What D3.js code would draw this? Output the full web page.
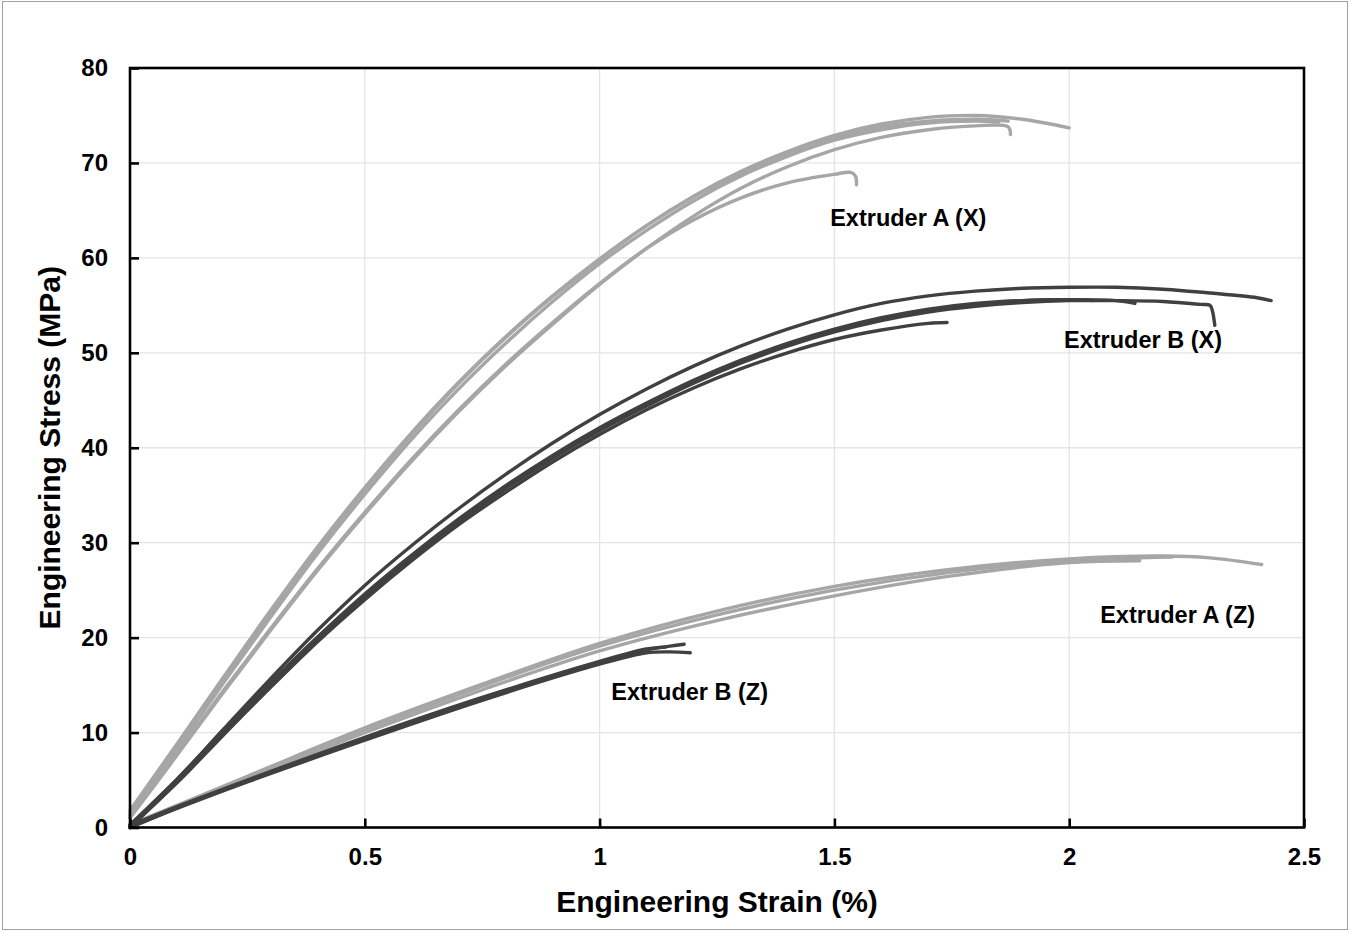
<!DOCTYPE html>
<html>
<head>
<meta charset="utf-8">
<script src="https://cdn.jsdelivr.net/npm/d3@7"></script>
<style>
  body { margin: 0; background: #fff; }
  svg text { font-family: "Liberation Sans", Arial, sans-serif; font-weight: bold; fill: #000; }
</style>
</head>
<body>
<div id="chart"></div>
<script>
// tensile curves, [strain %, stress MPa]
const extruderAX = [
  [[0,1.5],[0.1,8.5],[0.2,15.6],[0.3,22.6],[0.4,29.3],[0.5,35.6],[0.6,41.4],[0.7,46.8],[0.8,51.6],[0.9,55.9],[1.0,59.8],[1.1,63.4],[1.2,66.5],[1.3,69.1],[1.4,71.2],[1.5,72.9],[1.6,74.1],[1.7,74.8],[1.8,75],[1.9,74.6],[2.0,73.7]],
  [[0,1.8],[0.1,8.8],[0.2,15.9],[0.3,22.9],[0.4,29.6],[0.5,35.8],[0.6,41.6],[0.7,46.9],[0.8,51.7],[0.9,56],[1.0,59.9],[1.1,63.4],[1.2,66.4],[1.3,68.9],[1.4,71],[1.5,72.6],[1.6,73.8],[1.7,74.4],[1.8,74.6],[1.87,74.4]],
  [[0,1.2],[0.1,8.2],[0.2,15.3],[0.3,22.2],[0.4,28.9],[0.5,35.1],[0.6,40.9],[0.7,46.2],[0.8,51],[0.9,55.4],[1.0,59.4],[1.1,62.9],[1.2,66],[1.3,68.6],[1.4,70.7],[1.5,72.4],[1.6,73.5],[1.7,74.2],[1.8,74.4],[1.85,74.3]],
  [[0,1],[0.1,7.6],[0.2,14.3],[0.3,20.8],[0.4,27.1],[0.5,33],[0.6,38.6],[0.7,43.8],[0.8,48.6],[0.9,53],[1.0,57.2],[1.1,61],[1.2,64.4],[1.3,67.3],[1.4,69.6],[1.5,71.4],[1.6,72.7],[1.7,73.5],[1.8,73.9],[1.87,73.8],[1.875,73.0]],
  [[0,1.2],[0.1,7.8],[0.2,14.5],[0.3,21],[0.4,27.3],[0.5,33.2],[0.6,38.8],[0.7,44],[0.8,48.8],[0.9,53.2],[1.0,57.3],[1.1,61],[1.2,64],[1.3,66.3],[1.4,67.9],[1.5,68.8],[1.535,69],[1.545,68.6],[1.547,67.7]]
];
const extruderBX = [
  [[0,0],[0.1,5],[0.2,10.4],[0.3,15.7],[0.4,20.8],[0.5,25.5],[0.6,29.7],[0.7,33.6],[0.8,37.2],[0.9,40.5],[1.0,43.5],[1.1,46.2],[1.2,48.6],[1.3,50.7],[1.4,52.5],[1.5,54],[1.6,55.2],[1.7,56],[1.8,56.5],[1.9,56.8],[2.0,56.9],[2.1,56.9],[2.2,56.7],[2.3,56.3],[2.4,55.8],[2.43,55.5]],
  [[0,0],[0.1,4.8],[0.2,10],[0.3,15],[0.4,19.8],[0.5,24.3],[0.6,28.4],[0.7,32.2],[0.8,35.7],[0.9,38.9],[1.0,41.8],[1.1,44.4],[1.2,46.8],[1.3,48.9],[1.4,50.7],[1.5,52.2],[1.6,53.4],[1.7,54.3],[1.8,54.9],[1.9,55.3],[2.0,55.5],[2.1,55.5],[2.2,55.4],[2.28,55.1],[2.3,55],[2.305,54.4],[2.31,52.9]],
  [[0,0.2],[0.1,5],[0.2,10.2],[0.3,15.2],[0.4,20],[0.5,24.5],[0.6,28.6],[0.7,32.4],[0.8,35.9],[0.9,39.1],[1.0,42],[1.1,44.6],[1.2,47],[1.3,49.1],[1.4,50.9],[1.5,52.4],[1.6,53.6],[1.7,54.5],[1.8,55.1],[1.9,55.5],[2.0,55.6],[2.1,55.5],[2.14,55.2]],
  [[0,0.1],[0.1,4.7],[0.2,9.8],[0.3,14.8],[0.4,19.6],[0.5,24],[0.6,28.1],[0.7,31.9],[0.8,35.3],[0.9,38.5],[1.0,41.4],[1.1,44],[1.2,46.3],[1.3,48.3],[1.4,50],[1.5,51.4],[1.6,52.4],[1.7,53.1],[1.74,53.2]],
  [[0,0.3],[0.1,5.1],[0.2,10.3],[0.3,15.3],[0.4,20.1],[0.5,24.6],[0.6,28.7],[0.7,32.5],[0.8,36],[0.9,39.2],[1.0,42.1],[1.1,44.7],[1.2,47.1],[1.3,49.2],[1.4,51],[1.5,52.5],[1.6,53.7],[1.7,54.6],[1.8,55.2],[1.9,55.5],[2.0,55.6],[2.05,55.5]]
];
const extruderAZ = [
  [[0,0.3],[0.25,5.4],[0.5,10.5],[0.75,15.1],[1.0,19.4],[1.25,22.8],[1.5,25.4],[1.75,27.2],[2.0,28.3],[2.2,28.6],[2.3,28.4],[2.41,27.7]],
  [[0,0.2],[0.25,5.3],[0.5,10.3],[0.75,14.9],[1.0,19.1],[1.25,22.4],[1.5,25],[1.75,26.9],[2.0,28.1],[2.22,28.5]],
  [[0,0],[0.25,5.1],[0.5,10],[0.75,14.5],[1.0,18.6],[1.25,21.8],[1.5,24.4],[1.75,26.5],[2.0,27.9],[2.15,28.1]]
];
const extruderBZ = [
  [[0,0],[0.1,2.1],[0.25,4.9],[0.5,9.4],[0.75,13.6],[1.0,17.4],[1.1,18.7],[1.15,19.1],[1.18,19.3]],
  [[0,0],[0.1,2],[0.25,4.8],[0.5,9.2],[0.75,13.4],[1.0,17.2],[1.1,18.4],[1.15,18.5],[1.193,18.4]],
  [[0,0.2],[0.1,2.2],[0.25,5],[0.5,9.5],[0.75,13.7],[1.0,17.5],[1.1,18.8],[1.14,19]]
];
const groupNames = ["Extruder A (X)", "Extruder B (X)", "Extruder A (Z)", "Extruder B (Z)"];
const xTicks = [0, 0.5, 1, 1.5, 2, 2.5];
const yTicks = [0, 10, 20, 30, 40, 50, 60, 70, 80];

let w = 1351, h = 932;
let padLeft = 130, padRight = 1304, padTop = 68, padBottom = 827.5;

var svg = d3.select("#chart").append("svg")
  .attr("width", w).attr("height", h);

// faint outer border of the picture
svg.append("rect")
  .attr("x", 2.5).attr("y", 1.5).attr("width", 1345).attr("height", 928)
  .attr("fill", "none").attr("stroke", "#a0a0a0").attr("stroke-width", 1);

var x = d3.scaleLinear().domain([0, 2.5]).range([padLeft, padRight]);
var y = d3.scaleLinear().domain([0, 80]).range([padBottom, padTop]);

// gridlines
svg.append("g").selectAll("line").data(xTicks.slice(1, -1)).enter().append("line")
  .attr("x1", d => x(d)).attr("x2", d => x(d)).attr("y1", padTop).attr("y2", padBottom)
  .attr("stroke", "#e4e4e4").attr("stroke-width", 1.3);
svg.append("g").selectAll("line").data(yTicks.slice(1, -1)).enter().append("line")
  .attr("y1", d => y(d)).attr("y2", d => y(d)).attr("x1", padLeft).attr("x2", padRight)
  .attr("stroke", "#e4e4e4").attr("stroke-width", 1.3);

var line = d3.line()
  .x(d => x(d[0])).y(d => y(d[1]))
  .curve(d3.curveCatmullRom.alpha(0.5));

function drawGroup(curves, color) {
  svg.append("g").selectAll("path").data(curves).enter().append("path")
    .attr("d", line)
    .attr("fill", "none")
    .attr("stroke", color)
    .attr("stroke-width", 3.4)
    .attr("stroke-linecap", "round")
    .attr("stroke-linejoin", "round");
}
drawGroup(extruderAZ, "#a6a6a6");
drawGroup(extruderBZ, "#404040");
drawGroup(extruderAX, "#a6a6a6");
drawGroup(extruderBX, "#404040");

// axes, ticks pointing in
var xAxis = d3.axisBottom(x).tickValues(xTicks).tickSize(-9).tickPadding(20)
  .tickFormat(d => d);
var yAxis = d3.axisLeft(y).tickValues(yTicks).tickSize(-9).tickPadding(22)
  .tickFormat(d => d);

var gx = svg.append("g").attr("transform", "translate(0," + padBottom + ")").call(xAxis);
var gy = svg.append("g").attr("transform", "translate(" + padLeft + ",0)").call(yAxis);
[gx, gy].forEach(function(g) {
  g.select(".domain").remove();
  g.selectAll(".tick line").attr("stroke", "#000").attr("stroke-width", 2.6);
  g.selectAll(".tick text").style("font-size", "24px").style("font-family", "Liberation Sans, Arial, sans-serif").style("font-weight", "bold");
});

// frame
svg.append("rect")
  .attr("x", padLeft).attr("y", padTop).attr("width", padRight - padLeft).attr("height", padBottom - padTop)
  .attr("fill", "none").attr("stroke", "#000").attr("stroke-width", 2.6);

// axis titles
svg.append("text")
  .attr("x", (padLeft + padRight) / 2).attr("y", 912)
  .style("text-anchor", "middle").style("font-size", "30px")
  .text("Engineering Strain (%)");
svg.append("text")
  .attr("transform", "translate(60," + ((padTop + padBottom) / 2) + ") rotate(-90)")
  .style("text-anchor", "middle").style("font-size", "30px")
  .text("Engineering Stress (MPa)");

// group labels
let labelAt = [[1.491, 63.4], [1.989, 50.5], [2.066, 21.55], [1.025, 13.4]];
svg.append("g").selectAll("text").data(groupNames).enter().append("text")
  .attr("x", (d, i) => x(labelAt[i][0]))
  .attr("y", (d, i) => y(labelAt[i][1]))
  .style("font-size", "23.5px")
  .text(d => d);
</script>
</body>
</html>
